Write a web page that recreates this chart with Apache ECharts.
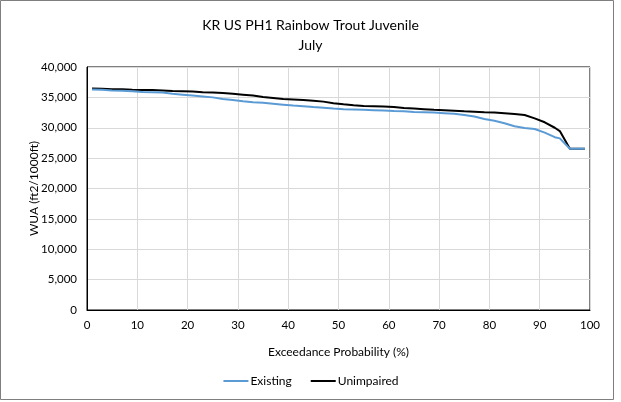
<!DOCTYPE html>
<html><head><meta charset="utf-8">
<script src="https://cdn.jsdelivr.net/npm/echarts@6/dist/echarts.min.js"></script>
<style>html,body{margin:0;padding:0;background:#fff}#c{width:621px;height:402px}</style>
</head><body><div id="c"></div>
<script>
const xTicks = [0,10,20,30,40,50,60,70,80,90,100];
const yTicks = [0,5000,10000,15000,20000,25000,30000,35000,40000];
const existingX = [1,3,5,7,9,11,13,15,17,19,21,23,25,27,29,31,33,35,37,39,41,43,45,47,49,51,53,55,57,59,61,63,65,67,69,71,73,75,77,79,81,83,85,87,89,91,93,94,96,99];
const existingY = [36300,36250,36150,36100,36000,35900,35850,35800,35600,35450,35300,35150,35000,34750,34550,34350,34200,34100,33950,33800,33650,33550,33400,33300,33150,33050,33000,32950,32900,32850,32750,32700,32600,32550,32500,32400,32300,32100,31850,31450,31150,30750,30250,29950,29800,29200,28450,28250,26550,26550];
const unimpairedX = [1,3,5,7,9,11,13,15,17,19,21,23,25,27,29,31,33,35,37,39,41,43,45,47,49,51,53,55,57,59,61,63,65,67,69,71,73,75,77,79,81,83,85,87,89,91,93,94,96,99];
const unimpairedY = [36450,36400,36350,36350,36250,36200,36200,36150,36050,36000,35950,35850,35800,35700,35600,35450,35300,35050,34900,34750,34650,34550,34450,34300,34050,33850,33700,33600,33550,33500,33400,33250,33150,33050,32950,32900,32800,32700,32650,32550,32500,32400,32250,32100,31550,30900,30000,29450,26550,26550];

const font = 'Lato, "Open Sans", sans-serif';
const pairs = (xs, ys) => xs.map((x, i) => [x, ys[i]]);
const chart = echarts.init(document.getElementById('c'), null, {renderer: 'canvas'});
chart.setOption({
  animation: false,
  backgroundColor: '#fff',
  textStyle: {fontFamily: font},
  title: {
    text: 'KR US PH1 Rainbow Trout Juvenile\nJuly',
    left: 'center', top: 10,
    textStyle: {fontFamily: font, fontSize: 14, fontWeight: 'normal', color: '#000', lineHeight: 20}
  },
  graphic: [{type: 'rect', shape: {x: 0.5, y: 0.5, width: 613, height: 399}, style: {fill: 'none', stroke: '#7f7f7f', lineWidth: 1}, silent: true}],
  grid: {left: 87, right: 31, top: 67, bottom: 92, show: true, borderColor: '#000', borderWidth: 1, backgroundColor: 'transparent'},
  legend: {
    bottom: 10, left: 'center', itemWidth: 25, itemHeight: 2, itemGap: 18,
    textStyle: {fontFamily: font, fontSize: 12, color: '#000', padding: [0,0,0,-3]},
    data: ['Existing', 'Unimpaired']
  },
  xAxis: {
    type: 'value', min: 0, max: 100, interval: 10,
    name: 'Exceedance Probability (%)', nameLocation: 'middle', nameGap: 36, nameMoveOverlap: false,
    nameTextStyle: {fontFamily: font, fontSize: 12, color: '#000'},
    axisLine: {show: true, lineStyle: {color: '#000'}},
    axisTick: {show: false},
    axisLabel: {fontFamily: font, fontSize: 11.5, color: '#000', margin: 9, formatter: v => xTicks.includes(v) ? String(v) : ''},
    splitLine: {show: true, lineStyle: {color: '#d9d9d9', width: 1}}
  },
  yAxis: {
    type: 'value', min: 0, max: 40000, interval: 5000,
    name: 'WUA (ft2/1000ft)', nameLocation: 'middle', nameGap: 47, nameRotate: 90, nameMoveOverlap: false,
    nameTextStyle: {fontFamily: font, fontSize: 12, color: '#000'},
    axisLine: {show: true, lineStyle: {color: '#000'}},
    axisTick: {show: false},
    axisLabel: {fontFamily: font, fontSize: 11.5, color: '#000', margin: 10, formatter: v => yTicks.includes(v) ? v.toLocaleString('en-US') : ''},
    splitLine: {show: true, lineStyle: {color: '#d9d9d9', width: 1}}
  },
  series: [
    {name: 'Existing', type: 'line', data: pairs(existingX, existingY), symbol: 'none', lineStyle: {color: '#5b9bd5', width: 2}, itemStyle: {color: '#5b9bd5'}, z: 3},
    {name: 'Unimpaired', type: 'line', data: pairs(unimpairedX, unimpairedY), symbol: 'none', lineStyle: {color: '#000', width: 2}, itemStyle: {color: '#000'}, z: 2}
  ]
});
</script></body></html>
